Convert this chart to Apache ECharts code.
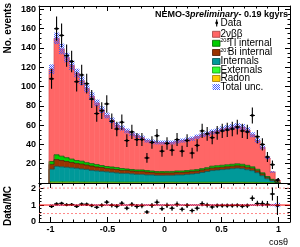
<!DOCTYPE html>
<html><head><meta charset="utf-8">
<script src="https://cdn.jsdelivr.net/npm/echarts@6/dist/echarts.min.js"></script>
<style>html,body{margin:0;padding:0;background:#fff;}#c{width:300px;height:247px;}</style>
</head><body><div id="c"></div>
<script>
// ---- data ----
const binCenters = [-0.990,-0.946,-0.902,-0.858,-0.814,-0.770,-0.726,-0.682,-0.638,-0.594,
  -0.550,-0.506,-0.462,-0.418,-0.374,-0.330,-0.286,-0.242,-0.198,-0.154,
  -0.110,-0.066,-0.022,0.022,0.066,0.110,0.154,0.198,0.242,0.286,
  0.330,0.374,0.418,0.462,0.506,0.550,0.594,0.638,0.682,0.726,
  0.770,0.814,0.858,0.902,0.946,0.990];
const binWidth = 0.044;
const dataCounts = [108,160,153,132,126,105,112,103,87,72,
  75,82,64,56,63,44,53,45,45,26,
  42,49,33,41,34,45,33,44,31,39,
  54,51,47,52,54,55,56,58,54,53,
  70,48,40,27,19,3];
const twoNuBB = [95.7,120.7,111.2,103.7,97.2,90.7,83.4,76.9,69.9,63.9,
  57.9,52.9,48.4,44.0,42.0,39.5,37.0,35.5,33.5,31.1,
  30.6,30.1,30.1,30.0,30.0,30.6,31.6,32.1,32.6,34.1,
  35.1,35.1,35.6,36.1,37.6,38.1,38.6,39.1,38.6,36.7,
  33.2,29.8,26.4,19.3,7.7,2.0];
const tl208Internal = [3,5,4.5,4,3.5,3,3,2.5,2.5,2.5,
  2,2,2,2,2,1.5,1.5,1.5,1.5,1.5,
  1.5,1.5,1.5,1.5,1.5,1.5,1.5,1.5,1.5,1.5,
  1.5,1.5,2,2,2,2,2,2,2,2,
  1.5,1.5,1,0.8,0.5,0.2];
const bi207Internal = [5,7,6.5,6,5.5,5,5,4.5,4.5,4,
  4,3.5,3.5,3.5,3,3,3,3,3,3,
  2.5,2.5,2.5,2.5,2.5,2.5,2.5,2.5,2.5,2.5,
  2.5,2.5,2.5,2.5,2.5,2.5,2.5,2.5,2.5,2.5,
  2.5,2,2,1.5,1,0.3];
const internals = [13,16,15.5,15,14.5,14,13.5,13,12,11.5,
  11,10.5,10,9.5,9,9,8.5,8,8,7.5,
  7.5,7,7,7,7,7.5,7.5,8,8.5,9,
  10,11,12,12.5,13,13.5,14,14.5,14,13,
  12,10,7,4,2,0.5];
const externals = [1,1,1,1,1,1,0.8,0.8,0.8,0.8,
  0.8,0.8,0.8,0.7,0.7,0.7,0.7,0.7,0.7,0.6,
  0.6,0.6,0.6,0.6,0.6,0.6,0.6,0.6,0.6,0.6,
  0.6,0.6,0.6,0.6,0.6,0.6,0.6,0.6,0.6,0.5,
  0.5,0.5,0.4,0.3,0.2,0.1];
const radon = [0.3,0.3,0.3,0.3,0.3,0.3,0.3,0.3,0.3,0.3,
  0.3,0.3,0.3,0.3,0.3,0.3,0.3,0.3,0.3,0.3,
  0.3,0.3,0.3,0.4,0.4,0.3,0.3,0.3,0.3,0.3,
  0.3,0.3,0.3,0.3,0.3,0.3,0.3,0.3,0.3,0.3,
  0.3,0.2,0.2,0.1,0.1,0];
const totalUnc = [5,6,5.5,5,5,4.5,4.5,4,4,3.5,
  3.5,3,3,2.8,2.6,2.5,2.4,2.3,2.2,2.1,
  2.1,2,2,2,2,2,2.1,2.1,2.2,2.3,
  2.4,2.5,2.6,2.7,2.8,2.9,3,3,3,2.8,
  2.6,2.4,2.1,1.3,0.8,0.4];
const xTicks = [-1, -0.5, 0, 0.5, 1];
const ratioRefLines = [0.5, 1, 2];
const legendNames = ['Data','2νββ','208Tl internal','207Bi internal','Internals','Externals','Radon','Total unc.'];

// ---- styling ----
const FONT = "'Liberation Sans', Arial, Helvetica, sans-serif";
const layers = [ // bottom -> top
  {name:'Radon', values:radon, fill:'#FFCC00', line:'#A07800'},
  {name:'Externals', values:externals, fill:'#33FF33', line:'#139913'},
  {name:'Internals', values:internals, fill:'#009999', line:'#005050'},
  {name:'207Bi internal', values:bi207Internal, fill:'#993300', line:'#4a1800'},
  {name:'208Tl internal', values:tl208Internal, fill:'#00CC00', line:'#005f00'},
  {name:'2νββ', values:twoNuBB, fill:'#FF6666', line:'#E05050'}
];
const mcTotal = binCenters.map((_, j) => layers.reduce((s, L) => s + L.values[j], 0));

function makeHatch(){
  const cv = document.createElement('canvas'); cv.width = 4; cv.height = 4;
  const g = cv.getContext('2d');
  g.fillStyle = 'rgba(60,85,255,0.95)';
  for (let y=0;y<4;y++) for (let x=0;x<4;x++) if ((x+y)%2===0) g.fillRect(x,y,1,1);
  return cv;
}
const hatchFill = {image: makeHatch(), repeat: 'repeat'};

function cum(j, upto){ let s=0; for (let k=0;k<=upto;k++) s += layers[k].values[j]; return s; }

function stackSeries(L){
  const layer = layers[L];
  return {
    type:'custom', name:layer.name, xAxisIndex:0, yAxisIndex:0, clip:true,
    data: binCenters.map((c,j)=>[c, layer.values[j]]), encode:{x:0,y:1},
    renderItem(params, api){
      const j = params.dataIndex;
      const base = L>0 ? cum(j, L-1) : 0, top = cum(j, L);
      const lo = binCenters[j]-binWidth/2, hi = binCenters[j]+binWidth/2;
      const a = api.coord([lo, base]), b = api.coord([hi, top]);
      const pv = api.coord([lo, j>0 ? cum(j-1, L) : 0]);
      const pts = [[a[0], pv[1]], [a[0], b[1]], [b[0], b[1]]];
      if (j === binCenters.length-1) pts.push([b[0], api.coord([hi, 0])[1]]);
      return {type:'group', children:[
        {type:'rect', z2:1, shape:{x:a[0], y:b[1], width:b[0]-a[0]+0.5, height:a[1]-b[1]}, style:{fill:layer.fill}},
        {type:'polyline', z2:10, shape:{points:pts}, style:{stroke:layer.line, lineWidth:0.8, fill:null}}
      ]};
    }
  };
}

function uncSeries(){
  return {
    type:'custom', name:'Total unc.', xAxisIndex:0, yAxisIndex:0, clip:true,
    data: binCenters.map((c,j)=>[c, mcTotal[j]]), encode:{x:0,y:1},
    renderItem(params, api){
      const j = params.dataIndex;
      const lo = binCenters[j]-binWidth/2, hi = binCenters[j]+binWidth/2;
      const a = api.coord([lo, mcTotal[j]-totalUnc[j]]), b = api.coord([hi, mcTotal[j]+totalUnc[j]]);
      return {type:'rect', z2:20, shape:{x:a[0], y:b[1], width:b[0]-a[0]+0.3, height:a[1]-b[1]}, style:{fill:hatchFill}};
    }
  };
}

function pointSeries(name, xi, yi, valFn, errFn, r){
  return {
    type:'custom', name, xAxisIndex:xi, yAxisIndex:yi, clip:true,
    data: binCenters.map((c,j)=>[c, valFn(j)]), encode:{x:0,y:1},
    renderItem(params, api){
      const j = params.dataIndex, v = valFn(j), e = errFn(j), c = binCenters[j];
      const p = api.coord([c, v]), up = api.coord([c, v+e]), dn = api.coord([c, Math.max(0, v-e)]);
      const l = api.coord([c-binWidth/2, v]), rr = api.coord([c+binWidth/2, v]);
      return {type:'group', children:[
        {type:'line', z2:30, shape:{x1:p[0], y1:up[1], x2:p[0], y2:dn[1]}, style:{stroke:'#000', lineWidth:1.1}},
        {type:'line', z2:30, shape:{x1:l[0], y1:p[1], x2:rr[0], y2:p[1]}, style:{stroke:'#000', lineWidth:1.1}},
        {type:'circle', z2:31, shape:{cx:p[0], cy:p[1], r:r}, style:{fill:'#000'}}
      ]};
    }
  };
}

function ratioUncSeries(){
  return {
    type:'custom', name:'ratio unc', xAxisIndex:4, yAxisIndex:2, clip:true,
    data: binCenters.map((c,j)=>[c, 1]), encode:{x:0,y:1},
    renderItem(params, api){
      const j = params.dataIndex, u = totalUnc[j]/mcTotal[j];
      const lo = binCenters[j]-binWidth/2, hi = binCenters[j]+binWidth/2;
      const a = api.coord([lo, 1-u]), b = api.coord([hi, 1+u]);
      return {type:'rect', z2:5, shape:{x:a[0], y:b[1], width:b[0]-a[0]+0.3, height:Math.max(1.5, a[1]-b[1])}, style:{fill:hatchFill}};
    }
  };
}

function refLine(v){
  const solid = v === 1;
  return {type:'line', xAxisIndex:4, yAxisIndex:2, symbol:'none', silent:true, z: solid?3:2,
    data:[[-1.1, v],[1.1, v]],
    lineStyle: solid ? {color:'#FF0000', width:1} : {color:'#FF8888', width:1, type:[2,2]}};
}

function xAx(grid, pos, major, labels){
  const o = {type:'value', gridIndex:grid, position:pos, min:-1.1, max:1.1,
    axisLine:{show:!major, onZero:false, lineStyle:{color:'#000', width:1}},
    axisTick:{show:true, inside:true, length: major?5:2.5, lineStyle:{color:'#000', width:1}},
    axisLabel:{show:false}, splitLine:{show:false}, minorTick:{show:false}};
  if (major) { o.axisTick.customValues = xTicks; }
  else { o.interval = 0.1; }
  if (labels) o.axisLabel = {show:true, customValues:xTicks, formatter:v=>String(v), fontFamily:FONT, fontWeight:'bold', fontSize:9, color:'#000', margin:3};
  return o;
}
function yAx(grid, pos, max, interval, minorSplit, labels){
  return {type:'value', gridIndex:grid, position:pos, min:0, max, interval,
    axisLine:{show:true, onZero:false, lineStyle:{color:'#000', width:1}},
    axisTick:{show:true, inside:true, length:5, lineStyle:{color:'#000', width:1}},
    minorTick:{show:true, splitNumber:minorSplit, length:2.5, lineStyle:{color:'#000', width:1}},
    axisLabel: labels ? {show:true, showMinLabel: grid===1, showMaxLabel:false, fontFamily:FONT, fontWeight:'bold', fontSize:9, color:'#000', margin:3} : {show:false},
    splitLine:{show:false}};
}

// ---- legend & texts (graphic) ----
const rowY = [34.3, 43.3, 52.5, 61.5, 70, 78.5, 87];
const legendBoxes = [
  {fill:'#FF6666', line:'#A04040'}, {fill:'#00CC00', line:'#005f00'}, {fill:'#993300', line:'#4a1800'},
  {fill:'#009999', line:'#005050'}, {fill:'#33FF33', line:'#139913'}, {fill:'#FFCC00', line:'#A07800'},
  {fill:hatchFill, line:null}
];
const graphics = [];
const txt = (x, y, text, font, align, extra) => Object.assign({type:'text', x, y, silent:true,
  style:{text, font, fill:'#000', align:align||'left', textAlign:align||'left', verticalAlign:'middle', textVerticalAlign:'middle'}}, extra||{});
// Data legend marker
graphics.push({type:'line', silent:true, shape:{x1:216.7, y1:19.5, x2:216.7, y2:26.5}, style:{stroke:'#000', lineWidth:1.1}});
graphics.push({type:'circle', silent:true, shape:{cx:216.7, cy:23, r:1.4}, style:{fill:'#000'}});
graphics.push(txt(220.5, 23, legendNames[0], '10px '+FONT));
legendBoxes.forEach((b, i) => {
  graphics.push({type:'rect', silent:true, shape:{x:212.5, y:rowY[i]-3, width:7.5, height:6},
    style:{fill:b.fill, stroke:b.line||null, lineWidth:b.line?0.8:0}});
});
graphics.push(txt(220.5, rowY[0], legendNames[1], '10px '+FONT));
graphics.push(txt(220.3, rowY[1]-2.5, '208', '5.5px '+FONT));
graphics.push(txt(227.8, rowY[1], 'Tl internal', '10px '+FONT));
graphics.push(txt(220.3, rowY[2]-2.5, '207', '5.5px '+FONT));
graphics.push(txt(227.8, rowY[2], 'Bi internal', '10px '+FONT));
for (let i=3;i<7;i++) graphics.push(txt(220.5, rowY[i], legendNames[i+1], '10px '+FONT));
// title
graphics.push({type:'text', x:288, y:15, silent:true, style:{
  text:'{a|NEMO-3}{b|preliminary}{a|- 0.19 kgyrs}', align:'right', textAlign:'right', verticalAlign:'middle', textVerticalAlign:'middle',
  rich:{a:{font:'bold 9px '+FONT, fill:'#000'}, b:{font:'italic bold 9px '+FONT, fill:'#000'}}}});
// axis titles
graphics.push(txt(8, 3, 'No. events', 'bold 10px '+FONT, 'right', {rotation:Math.PI/2}));
graphics.push(txt(8, 206, 'Data/MC', 'bold 10px '+FONT, 'center', {rotation:Math.PI/2}));
graphics.push(txt(288, 242.5, 'cosθ', '9px '+FONT, 'right'));

const option = {
  animation:false,
  backgroundColor:'#fff',
  grid:[
    {left:39, right:10, top:6, bottom:64, outerBoundsMode:'none', containLabel:false},
    {left:39, right:10, top:183, bottom:25, outerBoundsMode:'none', containLabel:false}
  ],
  xAxis:[
    xAx(0,'bottom',false,false), xAx(0,'bottom',true,false),
    xAx(0,'top',false,false), xAx(0,'top',true,false),
    xAx(1,'bottom',false,false), xAx(1,'bottom',true,true),
    xAx(1,'top',false,false), xAx(1,'top',true,false)
  ],
  yAxis:[
    yAx(0,'left',183.5,20,4,true), yAx(0,'right',183.5,20,4,false),
    yAx(1,'left',2.3,1,5,true), yAx(1,'right',2.3,1,5,false)
  ],
  series:[
    ...layers.map((_, L) => stackSeries(L)),
    uncSeries(),
    pointSeries('Data', 0, 0, j=>dataCounts[j], j=>Math.sqrt(dataCounts[j]), 1.4),
    ...ratioRefLines.map(refLine),
    ratioUncSeries(),
    pointSeries('Data/MC', 4, 2, j=>dataCounts[j]/mcTotal[j], j=>Math.sqrt(dataCounts[j])/mcTotal[j], 1.3)
  ],
  graphic: graphics
};
const chart = echarts.init(document.getElementById('c'), null, {renderer:'canvas', width:300, height:247});
chart.setOption(option);
</script>
</body></html>
